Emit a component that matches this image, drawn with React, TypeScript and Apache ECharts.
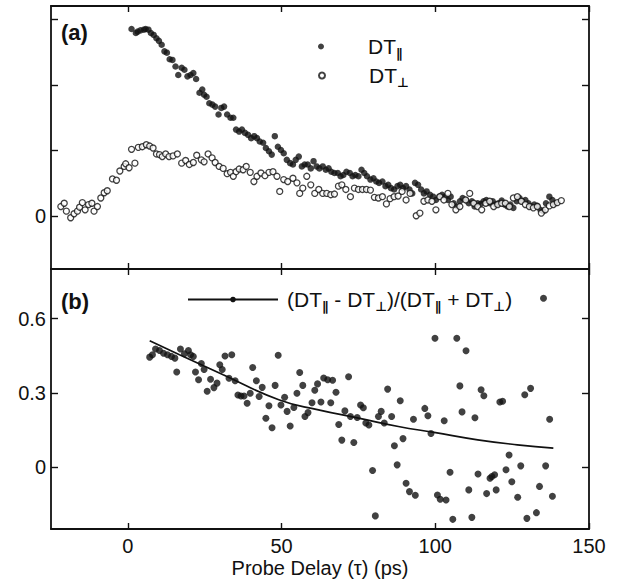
import React, { useEffect, useRef } from "react";
import * as echarts from "echarts";

// DT parallel (filled dots), [delay ps, signal in tick units]
const parallelPoints: [number, number][] = [
  [1.2, 2.85], [2.6, 2.79], [3.2, 2.81], [4.1, 2.83], [5.2, 2.84], [5.8, 2.85], [6.7, 2.84], [7.5, 2.79],
  [8.4, 2.76], [9.3, 2.71], [10.1, 2.67], [11.0, 2.61], [11.9, 2.51], [12.7, 2.49], [13.6, 2.39], [14.5, 2.38],
  [15.5, 2.28], [16.4, 2.15], [17.5, 2.26], [18.4, 2.23], [19.4, 2.13], [20.4, 2.15], [21.3, 2.18], [22.2, 2.09],
  [23.3, 1.88], [24.2, 1.93], [24.8, 1.85], [25.6, 1.82], [26.5, 1.72], [27.5, 1.70], [28.4, 1.67], [29.5, 1.55],
  [30.4, 1.65], [31.3, 1.67], [32.3, 1.55], [33.4, 1.50], [34.3, 1.50], [35.2, 1.32], [36.2, 1.29], [37.1, 1.32],
  [38.1, 1.27], [39.1, 1.24], [40.1, 1.19], [41.1, 1.22], [42.0, 1.19], [42.9, 1.14], [44.0, 1.12], [44.9, 1.04],
  [45.9, 0.99], [46.8, 0.94], [47.8, 1.22], [48.8, 1.06], [49.8, 1.01], [50.7, 0.96], [51.7, 0.86], [52.8, 0.81],
  [53.7, 0.79], [54.6, 0.86], [55.6, 0.91], [56.6, 0.76], [57.5, 0.79], [58.5, 0.79], [59.5, 0.73], [60.4, 0.84],
  [61.4, 0.76], [62.3, 0.73], [63.4, 0.76], [64.4, 0.71], [65.3, 0.73], [66.2, 0.68], [67.2, 0.66], [68.3, 0.66],
  [69.2, 0.61], [70.1, 0.63], [71.1, 0.68], [72.2, 0.66], [73.1, 0.61], [74.0, 0.63], [75.0, 0.61], [76.0, 0.71],
  [76.9, 0.66], [77.8, 0.61], [78.9, 0.56], [79.9, 0.58], [80.8, 0.53], [81.7, 0.51], [82.8, 0.53], [83.8, 0.46],
  [84.7, 0.48], [85.6, 0.43], [86.6, 0.41], [87.7, 0.46], [88.6, 0.48], [89.5, 0.43], [90.5, 0.46], [91.6, 0.41],
  [92.5, 0.35], [93.4, 0.51], [94.4, 0.48], [95.4, 0.41], [96.3, 0.35], [97.2, 0.38], [98.3, 0.33], [99.3, 0.30],
  [100.2, 0.25], [101.3, 0.30], [102.2, 0.33], [103.2, 0.30], [104.1, 0.25], [105.0, 0.30], [106.0, 0.20], [107.1, 0.15],
  [108.0, 0.23], [108.9, 0.28], [109.9, 0.25], [110.9, 0.20], [111.9, 0.23], [112.8, 0.15], [113.8, 0.20], [114.8, 0.19],
  [115.7, 0.23], [116.6, 0.25], [117.7, 0.20], [118.7, 0.23], [119.6, 0.18], [120.5, 0.20], [121.6, 0.24], [122.6, 0.18],
  [123.5, 0.15], [124.4, 0.18], [125.4, 0.13], [126.5, 0.23], [127.4, 0.28], [128.3, 0.23], [129.3, 0.25], [130.3, 0.20],
  [131.3, 0.15], [132.2, 0.18], [133.2, 0.16], [134.2, 0.10], [135.1, 0.08], [136.0, 0.20], [137.1, 0.30], [138.1, 0.25],
  [139.0, 0.20],
];

// DT perpendicular (open circles)
const perpPoints: [number, number][] = [
  [-21.8, 0.15], [-20.7, 0.2], [-20.0, 0.08], [-18.6, -0.02], [-17.5, 0.04], [-16.4, 0.08], [-15.7, 0.14], [-14.8, 0.21],
  [-13.9, 0.1], [-12.8, 0.18], [-11.7, 0.2], [-11.0, 0.08], [-9.9, 0.15], [-8.8, 0.28], [-7.7, 0.36], [-6.7, 0.39],
  [-5.0, 0.57], [-3.7, 0.55], [-2.6, 0.69], [-1.2, 0.76], [-0.7, 0.8], [0.4, 0.74], [1.2, 1.02], [2.3, 0.81],
  [3.4, 1.05], [4.7, 1.06], [6.0, 1.09], [7.1, 1.07], [8.2, 1.04], [9.3, 0.95], [10.3, 0.94], [11.2, 0.91],
  [12.3, 0.95], [13.4, 0.91], [14.7, 0.92], [16.1, 0.95], [17.5, 0.81], [18.8, 0.85], [20.0, 0.79], [21.3, 0.82],
  [22.4, 0.93], [23.9, 0.86], [24.8, 0.83], [26.1, 0.95], [27.4, 0.89], [28.4, 0.82], [29.7, 0.76], [31.0, 0.73],
  [32.3, 0.65], [33.4, 0.67], [34.3, 0.61], [35.2, 0.68], [36.2, 0.72], [37.5, 0.71], [38.5, 0.76], [39.8, 0.67],
  [41.0, 0.53], [42.0, 0.61], [43.3, 0.66], [44.6, 0.62], [45.9, 0.67], [47.2, 0.68], [48.5, 0.61], [49.4, 0.38],
  [50.7, 0.56], [52.0, 0.53], [53.7, 0.58], [55.0, 0.51], [55.9, 0.35], [56.9, 0.43], [58.2, 0.61], [59.5, 0.48],
  [60.8, 0.35], [62.1, 0.41], [63.4, 0.35], [64.7, 0.35], [66.0, 0.33], [67.2, 0.34], [68.5, 0.46], [69.6, 0.48],
  [70.9, 0.41], [72.4, 0.3], [73.7, 0.43], [75.0, 0.41], [76.3, 0.41], [77.6, 0.41], [78.9, 0.4], [80.2, 0.29],
  [81.5, 0.28], [82.8, 0.3], [84.1, 0.19], [85.3, 0.27], [86.6, 0.3], [87.9, 0.31], [89.2, 0.38], [90.5, 0.25],
  [91.8, 0.35], [93.8, 0.01], [95.0, 0.05], [96.3, 0.23], [97.6, 0.25], [98.9, 0.23], [100.2, 0.1], [101.5, 0.3],
  [102.8, 0.25], [104.1, 0.35], [105.4, 0.18], [106.7, 0.1], [108.0, 0.15], [109.9, 0.25], [111.2, 0.35], [112.5, 0.2],
  [113.8, 0.15], [115.1, 0.1], [116.4, 0.2], [117.7, 0.23], [119.0, 0.15], [120.3, 0.18], [121.6, 0.2], [122.8, 0.2],
  [124.1, 0.15], [125.4, 0.28], [126.7, 0.3], [128.0, 0.23], [129.3, 0.18], [130.6, 0.15], [131.9, 0.13], [133.2, 0.15],
  [134.5, 0.05], [135.8, 0.1], [137.1, 0.16], [138.4, 0.18], [139.7, 0.21], [141.0, 0.24],
];

// Anisotropy ratio (DT∥ - DT⊥)/(DT∥ + DT⊥)
const ratioPoints: [number, number][] = [
  [7.1, 0.444], [8.0, 0.454], [9.0, 0.477], [10.3, 0.471], [11.6, 0.46], [12.9, 0.454], [14.2, 0.447], [15.3, 0.44],
  [15.9, 0.384], [17.1, 0.477], [18.4, 0.458], [19.7, 0.471], [20.4, 0.454], [21.3, 0.447], [22.0, 0.384], [23.0, 0.353],
  [23.9, 0.418], [24.8, 0.394], [25.8, 0.306], [26.9, 0.355], [28.0, 0.321], [29.0, 0.339], [29.9, 0.413], [30.7, 0.394],
  [31.6, 0.449], [33.8, 0.454], [32.9, 0.359], [34.9, 0.349], [35.8, 0.291], [36.8, 0.287], [37.8, 0.287], [38.8, 0.258],
  [39.8, 0.298], [40.6, 0.402], [41.8, 0.349], [42.7, 0.285], [43.7, 0.322], [44.9, 0.197], [45.9, 0.248], [46.9, 0.159],
  [47.9, 0.33], [48.9, 0.452], [49.8, 0.251], [51.0, 0.282], [51.8, 0.225], [52.8, 0.166], [54.0, 0.241], [55.0, 0.298],
  [55.9, 0.382], [56.9, 0.33], [57.6, 0.204], [58.6, 0.22], [59.9, 0.26], [60.8, 0.31], [61.7, 0.336], [62.8, 0.263],
  [63.7, 0.36], [65.0, 0.353], [66.0, 0.26], [66.6, 0.351], [67.7, 0.302], [68.6, 0.172], [69.6, 0.109], [70.6, 0.227],
  [71.8, 0.365], [72.4, 0.204], [73.5, 0.099], [74.6, 0.2], [75.7, 0.251], [76.6, 0.24], [77.4, 0.178], [78.4, 0.17],
  [79.6, -0.014], [80.5, -0.197], [81.5, 0.204], [82.4, 0.225], [83.4, 0.178], [84.5, 0.315], [85.8, 0.204], [86.7, 0.086],
  [87.6, 0.009], [88.6, 0.268], [89.5, 0.115], [90.5, -0.065], [91.6, -0.099], [92.9, 0.193], [93.5, -0.114], [96.6, 0.237],
  [97.6, 0.207], [98.6, 0.136], [99.9, 0.52], [100.7, -0.113], [101.6, -0.13], [102.9, 0.187], [103.5, -0.133], [104.8, -0.021],
  [105.7, -0.211], [107.0, 0.52], [108.0, 0.328], [108.7, 0.223], [110.0, 0.47], [110.9, -0.092], [111.9, -0.203], [112.9, 0.199],
  [113.9, -0.028], [114.9, 0.312], [115.8, 0.288], [116.7, -0.107], [117.8, -0.045], [118.4, -0.038], [119.3, -0.031], [119.8, -0.092],
  [121.0, 0.263], [121.9, 0.266], [123.0, -0.011], [124.0, 0.049], [124.9, -0.059], [126.8, -0.122], [127.8, 0.005], [129.1, 0.292],
  [129.8, -0.207], [131.0, 0.318], [132.9, -0.184], [133.9, -0.078], [135.2, 0.682], [135.9, 0.005], [137.2, 0.193], [138.1, -0.118],
];

// Fitted decay curve
const fitPoints: [number, number][] = [
  [7.1, 0.51], [16.8, 0.454], [31, 0.373], [49.1, 0.272], [62, 0.231], [75, 0.198],
  [88, 0.164], [99.6, 0.14], [113.8, 0.11], [126.7, 0.09], [138.4, 0.077],
];

const xTicks = [0, 50, 100, 150];
const topYTicks = [0, 1, 2, 3];
const topYLabels = [0];
const bottomYTicks = [0, 0.3, 0.6];

const PAR = "DT∥";
const PERP = "DT⊥";
const RATIO = "(DT∥ - DT⊥)/(DT∥ + DT⊥)";

const FONT = '"Liberation Sans", Arial, Helvetica, sans-serif';
const SUB_FONT = '"DejaVu Sans", "Liberation Sans", sans-serif';
const INK = "#111";
const SUB_INK = "rgba(0,0,0,0.99)";

const rich: any = {
  m: { fontFamily: FONT, fontSize: 21, color: INK, lineHeight: 26, verticalAlign: "middle" },
  s: { fontFamily: SUB_FONT, fontSize: 13, fontWeight: "bold", color: SUB_INK, lineHeight: 11, verticalAlign: "bottom" },
  g: { fontFamily: FONT, fontSize: 21, lineHeight: 26, width: 39 },
  g2: { fontFamily: FONT, fontSize: 21, lineHeight: 26, width: 4 },
};

const lineStyle = { color: INK, width: 1.8 };
const tickLine = { color: INK, width: 1.4 };

function frameAxis(extra: any) {
  return {
    type: "value",
    axisLine: { show: true, onZero: false, lineStyle },
    axisLabel: { show: false },
    splitLine: { show: false },
    ...extra,
  };
}

export default function App() {
  const ref = useRef<HTMLDivElement>(null);
  useEffect(() => {
    if (!ref.current) return;
    const chart = echarts.init(ref.current, null, { renderer: "svg" });
    const labelStyle = { fontFamily: FONT, fontSize: 20, color: INK };
    const xTick = { show: true, inside: true, length: 6, customValues: xTicks, lineStyle: tickLine };
    const topYTick = { show: true, inside: true, length: 7, customValues: topYTicks, lineStyle: tickLine };
    const botYTick = { show: true, inside: true, length: 7, customValues: bottomYTicks, lineStyle: tickLine };
    chart.setOption({
      animation: false,
      backgroundColor: "#fff",
      grid: [
        { left: 51, top: 6, width: 538, height: 263 },
        { left: 51, top: 269, width: 538, height: 260 },
      ],
      title: [
        { text: "(a)", left: 61, top: 21, padding: 0, textStyle: { fontFamily: FONT, fontSize: 22, color: INK, fontWeight: "bold" } },
        { text: "(b)", left: 61, top: 290, padding: 0, textStyle: { fontFamily: FONT, fontSize: 22, color: INK, fontWeight: "bold" } },
      ],
      legend: [
        {
          data: [PAR], left: 318, top: 36, padding: 0, itemWidth: 6, itemHeight: 6, selectedMode: false,
          formatter: () => "{g| }{m|DT}{s|∥}", textStyle: { rich },
        },
        {
          data: [PERP], left: 318, top: 65, padding: 0, itemWidth: 6, itemHeight: 6, selectedMode: false,
          formatter: () => "{g| }{m|DT}{s|⊥}", textStyle: { rich },
        },
        {
          data: [RATIO], left: 187, top: 289, padding: 0, itemWidth: 90, itemHeight: 7, selectedMode: false,
          formatter: () => "{g2| }{m|(DT}{s|∥}{m| - DT}{s|⊥}{m|)/(DT}{s|∥}{m| + DT}{s|⊥}{m|)}",
          textStyle: { rich },
        },
      ],
      xAxis: [
        frameAxis({ gridIndex: 0, position: "bottom", min: -25, max: 150, axisTick: xTick }),
        frameAxis({ gridIndex: 0, position: "top", min: -25, max: 150, axisTick: xTick }),
        frameAxis({
          gridIndex: 1, position: "bottom", min: -25, max: 150, axisTick: xTick,
          axisLabel: { show: true, customValues: xTicks, margin: 7, ...labelStyle },
          name: "Probe Delay (τ) (ps)", nameLocation: "middle", nameGap: 29,
          nameTextStyle: labelStyle,
        }),
        frameAxis({ gridIndex: 1, position: "top", min: -25, max: 150, axisTick: xTick }),
      ],
      yAxis: [
        frameAxis({
          gridIndex: 0, position: "left", min: -0.8, max: 3.2, axisTick: topYTick,
          axisLabel: { show: true, customValues: topYLabels, margin: 5, ...labelStyle },
        }),
        frameAxis({ gridIndex: 0, position: "right", min: -0.8, max: 3.2, axisTick: topYTick }),
        frameAxis({
          gridIndex: 1, position: "left", min: -0.25, max: 0.8, axisTick: botYTick,
          axisLabel: {
            show: true, customValues: bottomYTicks, margin: 5, ...labelStyle,
            formatter: (v: number) => (v === 0 ? "0" : v.toFixed(1)),
          },
        }),
        frameAxis({ gridIndex: 1, position: "right", min: -0.25, max: 0.8, axisTick: botYTick }),
      ],
      series: [
        {
          name: PAR, type: "scatter", xAxisIndex: 0, yAxisIndex: 0, data: parallelPoints,
          symbol: "circle", symbolSize: 6.5, itemStyle: { color: INK },
        },
        {
          name: PERP, type: "scatter", xAxisIndex: 0, yAxisIndex: 0, data: perpPoints,
          symbol: "circle", symbolSize: 6, itemStyle: { color: "#fff", borderColor: INK, borderWidth: 1.3 },
        },
        {
          name: RATIO, type: "line", xAxisIndex: 2, yAxisIndex: 2, data: fitPoints, smooth: true,
          showSymbol: false, symbol: "circle", lineStyle: { color: INK, width: 1.7 }, itemStyle: { color: INK },
        },
        {
          name: RATIO, type: "scatter", xAxisIndex: 2, yAxisIndex: 2, data: ratioPoints,
          symbol: "circle", symbolSize: 7, itemStyle: { color: INK },
        },
      ],
    });
    return () => chart.dispose();
  }, []);
  return (
    <div
      ref={ref}
      style={{ position: "fixed", left: 0, top: 0, width: 624, height: 585, background: "#fff" }}
    />
  );
}
